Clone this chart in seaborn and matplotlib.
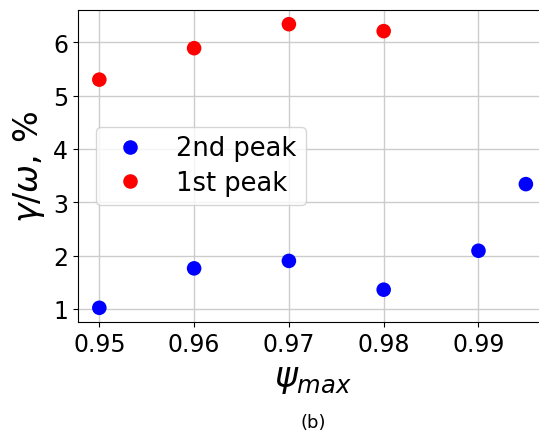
import pandas as pd
import seaborn as sns
import matplotlib.pyplot as plt

# Werte
psi_2nd = [0.95, 0.96, 0.97, 0.98, 0.99, 0.995]
gamma_2nd = [1.02, 1.76, 1.90, 1.36, 2.09, 3.34]
psi_1st = [0.95, 0.96, 0.97, 0.98]
gamma_1st = [5.30, 5.89, 6.34, 6.21]
labels = ['2nd peak', '1st peak']
colors = {'2nd peak': 'blue', '1st peak': 'red'}

df = pd.concat([
    pd.DataFrame({'psi': psi_2nd, 'gamma': gamma_2nd, 'peak': labels[0]}),
    pd.DataFrame({'psi': psi_1st, 'gamma': gamma_1st, 'peak': labels[1]}),
])

fig = plt.figure(figsize=(5.39, 4.35), dpi=100)
ax = fig.add_axes([0.1447, 0.2575, 0.8705, 0.7172])
sns.scatterplot(data=df, x='psi', y='gamma', hue='peak', palette=colors,
                s=110, edgecolor='none', ax=ax, zorder=3)

ax.set_xlim(0.94775, 0.99725)
ax.set_ylim(0.754, 6.606)
ax.set_xticks([0.95, 0.96, 0.97, 0.98, 0.99])
ax.set_yticks([1, 2, 3, 4, 5, 6])
ax.grid(True, color='#cccccc', linewidth=1)
ax.set_axisbelow(True)
ax.tick_params(labelsize=17)
ax.set_xlabel(r'$\psi_{max}$', fontsize=25)
ax.set_ylabel(r'$\gamma/\omega$, %', fontsize=24)
ax.legend(title=None, fontsize=18.5, loc='center left',
          bbox_to_anchor=(0.01, 0.5), markerscale=1.0,
          borderpad=0.35, labelspacing=0.35)
fig.text(0.581, 0.027, '(b)', ha='center', va='center', fontsize=13)

plt.savefig('out.png', dpi=100)
